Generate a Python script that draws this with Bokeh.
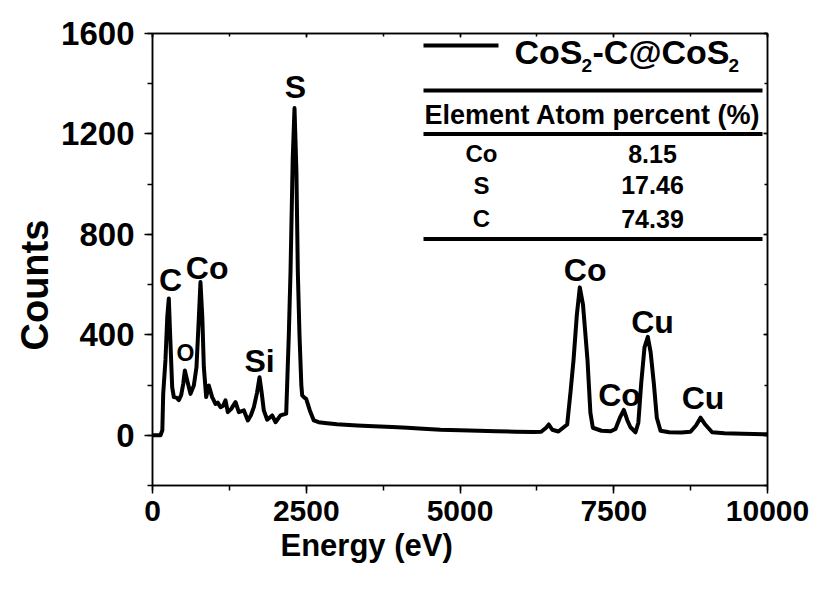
import math
from bokeh.plotting import figure
from bokeh.models import Label, LinearAxis, SingleIntervalTicker, Range1d, ColumnDataSource, Title
from bokeh.embed import file_html
from bokeh.resources import INLINE

# ---------------- data ----------------
energy_ev = [0, 130, 160, 174, 211, 240, 265, 290, 320, 347, 390, 428, 466, 500, 526, 564, 618,
             672, 715, 750, 780, 810, 835, 873, 916, 970, 1024, 1060, 1106, 1150, 1187, 1225,
             1280, 1350, 1404, 1486, 1550, 1600, 1648, 1700, 1740, 1775, 1810, 1865, 1946, 2000,
             2081, 2174, 2217, 2244, 2280, 2309, 2340, 2363, 2390, 2420, 2434, 2470, 2499, 2558,
             2623, 2700, 2840, 3000, 3328, 3600, 3900, 4141, 4400, 4683, 5000, 5300, 5600, 5900,
             6200, 6320, 6400, 6444, 6500, 6600, 6743, 6800, 6846, 6900, 6948, 7000, 7040, 7073,
             7120, 7160, 7300, 7450, 7528, 7600, 7664, 7720, 7772, 7854, 7900, 7946, 8000, 8054,
             8100, 8152, 8200, 8260, 8400, 8600, 8748, 8840, 8911, 8980, 9100, 9300, 9600, 10000]
counts = [0, 0, 20, 165, 300, 470, 545, 380, 192, 152, 150, 140, 160, 205, 258, 218, 165,
          198, 271, 450, 610, 470, 271, 152, 198, 152, 125, 130, 112, 118, 139, 92,
          105, 132, 92, 99, 59, 80, 112, 170, 231, 170, 99, 62, 79, 52,
          79, 86, 404, 650, 1100, 1303, 1050, 650, 400, 200, 159, 150, 145, 99,
          59, 52, 48, 44, 39, 36, 33, 30, 26, 22, 20, 18, 16, 14,
          13, 14, 30, 43, 22, 15, 43, 180, 300, 480, 589, 520, 400, 300,
          90, 30, 18, 16, 25, 70, 101, 60, 32, 12, 50, 206, 350, 392,
          330, 206, 70, 18, 12, 11, 14, 40, 70, 45, 12, 8, 6, 4]

peak_names = ["C", "Co", "O", "Si", "S", "Co", "Co", "Cu", "Cu"]
peak_energy = [293, 889, 537, 1740, 2325, 7035, 7595, 8130, 8951]
peak_label_counts = [620, 666, 326, 295, 1386, 660, 162, 453, 148]

elements = ["Co", "S", "C"]
atom_percent = ["8.15", "17.46", "74.39"]

x_major = 2500
y_major = 400

# ---------------- layout ----------------
W, H = 829, 590
X0, FW, Y0, FH = 152, 615, 33, 452
XMIN, XMAX, YMIN, YMAX = 0, 10000, -200, 1600


def dx(px):
    return XMIN + (px - X0) / FW * (XMAX - XMIN)


def dy(py):
    return YMAX - (py - Y0) / FH * (YMAX - YMIN)


FONT = "Liberation Sans"

p = figure(width=W, height=H, output_backend="svg", toolbar_location=None,
           x_range=Range1d(XMIN, XMAX), y_range=Range1d(YMIN, YMAX),
           min_border_left=X0, min_border_right=W - X0 - FW,
           min_border_top=Y0, min_border_bottom=H - Y0 - FH,
           background_fill_color="white", border_fill_color="white")
p.xgrid.visible = False
p.ygrid.visible = False
p.outline_line_color = "black"
p.outline_line_width = 1.5

xt = SingleIntervalTicker(interval=x_major, num_minor_ticks=2)
yt = SingleIntervalTicker(interval=y_major, num_minor_ticks=2)

xa = p.xaxis[0]
xa.ticker = xt
ya = p.yaxis[0]
ya.ticker = yt
for ax, size, standoff in ((xa, "30px", 7), (ya, "33px", 10)):
    ax.axis_line_color = "black"
    ax.axis_line_width = 1.5
    ax.major_tick_line_color = "black"
    ax.major_tick_line_width = 1.5
    ax.minor_tick_line_color = "black"
    ax.minor_tick_line_width = 1.5
    ax.major_tick_in = 0
    ax.major_tick_out = 8
    ax.minor_tick_in = 0
    ax.minor_tick_out = 5
    ax.major_label_text_font = FONT
    ax.major_label_text_font_style = "bold"
    ax.major_label_text_font_size = size
    ax.major_label_text_color = "black"
    ax.major_label_standoff = standoff

for loc, tk in (("above", xt), ("right", yt)):
    ax = LinearAxis(ticker=tk)
    ax.major_label_text_font_size = "0px"
    ax.major_label_text_alpha = 0
    ax.major_label_standoff = 0
    ax.axis_line_color = "black"
    ax.axis_line_width = 1.5
    ax.major_tick_line_color = "black"
    ax.minor_tick_line_color = "black"
    ax.major_tick_line_width = 1.5
    ax.minor_tick_line_width = 1.5
    ax.major_tick_in = 4
    ax.major_tick_out = 0
    ax.minor_tick_in = 3
    ax.minor_tick_out = 0
    p.add_layout(ax, loc)

# axis titles as offset titles
p.add_layout(Title(text="Energy (eV)", align="left", offset=128, standoff=4,
                   text_font=FONT, text_font_style="bold", text_font_size="31px",
                   text_color="black"), "below")
p.add_layout(Title(text="Counts", align="left", offset=135, standoff=6,
                   text_font=FONT, text_font_style="bold", text_font_size="38px",
                   text_color="black"), "left")

# spectrum
src = ColumnDataSource(dict(e=energy_ev, c=counts))
p.line("e", "c", source=src, line_color="black", line_width=4, line_join="round")

# peak labels
for name, e, c in zip(peak_names, peak_energy, peak_label_counts):
    p.add_layout(Label(x=e, y=c, text=name, text_align="center", text_baseline="middle",
                       text_font=FONT, text_font_style="bold",
                       text_font_size="23px" if name == "O" else "32px", text_color="black"))

# legend line + title
p.segment(x0=[dx(423)], y0=[dy(45)], x1=[dx(498)], y1=[dy(45)], line_color="black", line_width=4)
title_parts = [("CoS", 514, 51, "34px"), ("2", 581, 65, "19px"), ("-C@CoS", 592, 51, "34px"),
               ("2", 728, 65, "19px")]
for t, px, py, fs in title_parts:
    p.add_layout(Label(x=dx(px), y=dy(py), text=t, text_align="left", text_baseline="middle",
                       text_font=FONT, text_font_style="bold", text_font_size=fs, text_color="black"))

# table
for py in (90, 133.5, 238.5):
    p.segment(x0=[dx(423)], y0=[dy(py)], x1=[dx(762)], y1=[dy(py)], line_color="black", line_width=4)
p.add_layout(Label(x=dx(592), y=dy(114), text="Element Atom percent (%)", text_align="center",
                   text_baseline="middle", text_font=FONT, text_font_style="bold",
                   text_font_size="27px", text_color="black"))
for el, val, py in zip(elements, atom_percent, (153, 184.7, 218)):
    p.add_layout(Label(x=dx(481), y=dy(py), text=el, text_align="center", text_baseline="middle",
                       text_font=FONT, text_font_style="bold", text_font_size="24px", text_color="black"))
    p.add_layout(Label(x=dx(652), y=dy(py), text=val, text_align="center", text_baseline="middle",
                       text_font=FONT, text_font_style="bold", text_font_size="25px", text_color="black"))

open("out.html", "w").write(file_html(p, INLINE))
